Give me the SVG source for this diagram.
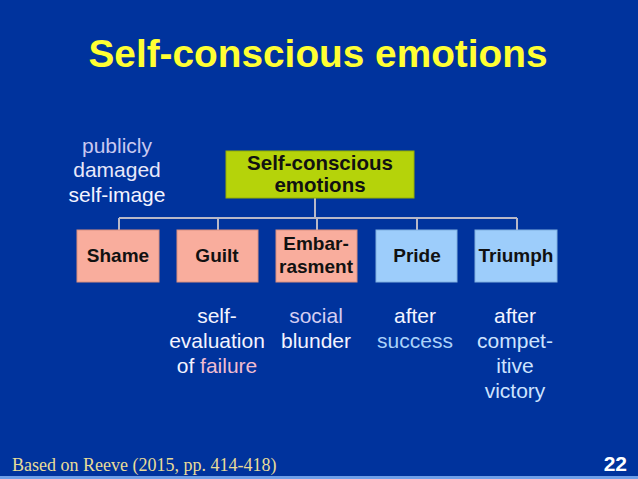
<svg xmlns="http://www.w3.org/2000/svg" width="638" height="479" viewBox="0 0 638 479">
<style>
.title{font-family:"Liberation Sans",Arial,sans-serif;font-weight:bold;font-size:38px;fill:#ffff33;text-anchor:middle;}
.box{font-family:"Liberation Sans",Arial,sans-serif;font-weight:bold;font-size:19px;fill:#111111;text-anchor:middle;}
.rootbox{font-family:"Liberation Sans",Arial,sans-serif;font-weight:bold;font-size:20.5px;fill:#111111;text-anchor:middle;}
.lbl{font-family:"Liberation Sans",Arial,sans-serif;font-size:21px;fill:#f4f4ff;text-anchor:middle;}
.pink{fill:#f9ad9d;stroke:#d99080;stroke-width:1;}
.blue{fill:#9dcdfb;stroke:#80b0e0;stroke-width:1;}
.conn line{stroke:#b8b8c8;stroke-width:2;}
</style>
<rect x="0" y="0" width="638" height="479" fill="#00339d"/>
<rect x="0" y="476" width="638" height="3" fill="#6f9fe8"/>
<text class="title" x="318" y="67" textLength="459" lengthAdjust="spacingAndGlyphs">Self-conscious emotions</text>

<g id="connectors" class="conn">
<line x1="315" y1="198" x2="315" y2="218"/>
<line x1="119" y1="218" x2="517" y2="218"/>
<line x1="119" y1="218" x2="119" y2="230"/>
<line x1="218" y1="218" x2="218" y2="230"/>
<line x1="317" y1="218" x2="317" y2="230"/>
<line x1="417" y1="218" x2="417" y2="230"/>
<line x1="517" y1="218" x2="517" y2="230"/>
</g>

<g id="root">
<rect x="226" y="151" width="188" height="47" fill="#b5d30a" stroke="#98b000" stroke-width="1"/>
<text class="rootbox" x="320" y="170">Self-conscious</text>
<text class="rootbox" x="320" y="192">emotions</text>
</g>
<g id="shame">
<rect class="pink" x="77" y="230" width="82" height="52"/>
<text class="box" x="118" y="262">Shame</text>
</g>
<g id="guilt">
<rect class="pink" x="177" y="230" width="81" height="52"/>
<text class="box" x="217" y="262">Guilt</text>
</g>
<g id="embarrasment">
<rect class="pink" x="276" y="230" width="81" height="52"/>
<text class="box" x="316" y="250">Embar-</text>
<text class="box" x="316" y="273">rasment</text>
</g>
<g id="pride">
<rect class="blue" x="376" y="230" width="81" height="52"/>
<text class="box" x="417" y="262">Pride</text>
</g>
<g id="triumph">
<rect class="blue" x="475" y="230" width="82" height="52"/>
<text class="box" x="516" y="262">Triumph</text>
</g>

<g id="shame-label">
<text class="lbl" x="117" y="153" style="fill:#c8c8f0">publicly</text>
<text class="lbl" x="117" y="177" style="fill:#e8e8fa">damaged</text>
<text class="lbl" x="117" y="202">self-image</text>
</g>
<g id="guilt-label">
<text class="lbl" x="217" y="323">self-</text>
<text class="lbl" x="217" y="348">evaluation</text>
<text class="lbl" x="217" y="373">of <tspan style="fill:#f0bcd0">failure</tspan></text>
</g>
<g id="embar-label">
<text class="lbl" x="316" y="323" style="fill:#d4cdf2">social</text>
<text class="lbl" x="316" y="348">blunder</text>
</g>
<g id="pride-label">
<text class="lbl" x="415" y="323">after</text>
<text class="lbl" x="415" y="348" style="fill:#aad2fa">success</text>
</g>
<g id="triumph-label">
<text class="lbl" x="515" y="323">after</text>
<text class="lbl" x="515" y="348" style="fill:#cde3ff">compet-</text>
<text class="lbl" x="515" y="373" style="fill:#cde3ff">itive</text>
<text class="lbl" x="515" y="398" style="fill:#cde3ff">victory</text>
</g>

<text x="12" y="471" style="font-family:'Liberation Serif','Times New Roman',serif;font-size:18px;fill:#e8dc98">Based on Reeve (2015, pp. 414-418)</text>
<text x="627" y="471" style="font-family:'Liberation Sans',Arial,sans-serif;font-weight:bold;font-size:21px;fill:#ffffff;text-anchor:end">22</text>
</svg>
